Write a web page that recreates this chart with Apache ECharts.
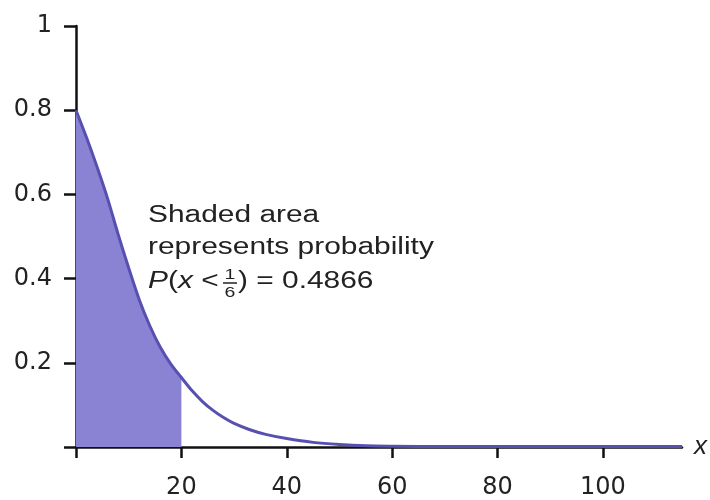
<!DOCTYPE html>
<html>
<head>
<meta charset="utf-8">
<script src="https://cdn.jsdelivr.net/npm/echarts@6/dist/echarts.min.js"></script>
<style>
  html, body { margin: 0; padding: 0; background: #fff; }
  #chart { width: 710px; height: 500px; }
</style>
</head>
<body>
<div id="chart"></div>
<script>
// curve
const xs = [0, 2, 4, 6, 8, 10, 12, 14, 16, 18, 20, 22, 24, 26, 28, 30, 33, 36, 40, 45, 50, 55, 60, 70, 80, 90, 100, 115]
const ys = [0.80, 0.735, 0.665, 0.59, 0.505, 0.425, 0.35, 0.288, 0.237, 0.197, 0.165, 0.134, 0.108, 0.087, 0.07, 0.056, 0.041, 0.030, 0.020, 0.011, 0.006, 0.003, 0.002, 0.001, 0.001, 0.001, 0.001, 0.001]
const shadeTo = 20
const xTicks = [0, 20, 40, 60, 80, 100]
const xLabels = [20, 40, 60, 80, 100]
const yTicks = [0, 0.2, 0.4, 0.6, 0.8, 1]
const yLabels = [0.2, 0.4, 0.6, 0.8, 1]

const FONT = '"Liberation Sans", Arial, sans-serif'
const TICKFONT = '"DejaVu Sans", sans-serif'
const curve = xs.map((x, i) => [x, ys[i]])
const shaded = curve.filter(p => p[0] <= shadeTo)

const chart = echarts.init(document.getElementById('chart'))

// the note text in the picture is stretched sideways, hence scaleX
const note = (x, y, text, size, align) => ({
  type: 'text', x: x, y: y, scaleX: 1.3,
  style: { text: text, font: size + 'px ' + FONT, fill: '#222', verticalAlign: 'top', align: align || 'left' }
})

const option = {
  backgroundColor: '#fff',
  animation: false,
  grid: { left: 76, right: 24, top: 26, bottom: 51 },
  xAxis: {
    type: 'value',
    min: 0,
    max: 115,
    name: 'x',
    nameLocation: 'end',
    nameGap: 12,
    nameTextStyle: { fontFamily: FONT, fontSize: 26, fontStyle: 'italic', color: '#222', verticalAlign: 'middle' },
    splitLine: { show: false },
    axisLine: { lineStyle: { color: '#111', width: 2.5 } },
    axisTick: { customValues: xTicks, length: 11, lineStyle: { color: '#111', width: 2.5 } },
    axisLabel: { customValues: xLabels, margin: 29, fontFamily: TICKFONT, fontSize: 24, color: '#222' }
  },
  yAxis: {
    type: 'value',
    min: 0,
    max: 1,
    splitLine: { show: false },
    axisLine: { show: true, lineStyle: { color: '#111', width: 2.5 } },
    axisTick: { show: true, customValues: yTicks, length: 12, lineStyle: { color: '#111', width: 2.5 } },
    axisLabel: { customValues: yLabels, margin: 24, fontFamily: TICKFONT, fontSize: 24, color: '#222' }
  },
  series: [
    {
      type: 'line',
      data: shaded,
      smooth: 0.3,
      symbol: 'none',
      lineStyle: { width: 0 },
      areaStyle: { color: '#8a82d2', opacity: 1 },
      z: 2
    },
    {
      type: 'line',
      data: curve,
      smooth: 0.3,
      symbol: 'none',
      lineStyle: { color: '#5750b0', width: 3 },
      z: 3
    }
  ],
  graphic: [
    note(148, 204, 'Shaded area', 23),
    note(148, 236, 'represents probability', 23),
    {
      type: 'text', x: 148, y: 270, scaleX: 1.3,
      style: {
        text: '{i|P}({i|x} <',
        font: '23px ' + FONT, fill: '#222', verticalAlign: 'top',
        rich: { i: { fontStyle: 'italic', fontSize: 23, fontFamily: FONT } }
      }
    },
    note(230, 267, '1', 15, 'center'),
    { type: 'line', shape: { x1: 223, y1: 283, x2: 237, y2: 283 }, style: { stroke: '#222', lineWidth: 1.5 } },
    note(230, 285, '6', 15, 'center'),
    note(238, 270, ') = 0.4866', 23)
  ]
}

chart.setOption(option)
</script>
</body>
</html>
